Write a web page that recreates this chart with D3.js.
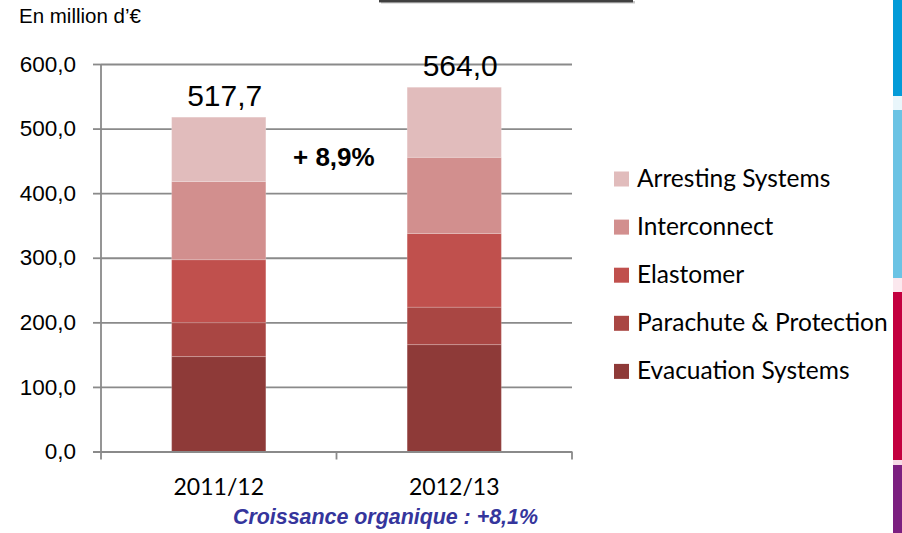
<!DOCTYPE html>
<html>
<head>
<meta charset="utf-8">
<script src="https://cdn.jsdelivr.net/npm/d3@7/dist/d3.min.js"></script>
<style>
  html, body { margin: 0; padding: 0; background: #ffffff; }
  svg { display: block; }
</style>
</head>
<body>
<svg id="chart" width="902" height="533"></svg>
<script>
// Revenue by division, in millions of euros
const categories = ["2011/12", "2012/13"];
const evacuationSystems = [147.0, 165.5];
const parachuteProtection = [52.5, 58.0];
const elastomer = [97.5, 114.0];
const interconnect = [121.0, 118.0];
const arrestingSystems = [99.7, 108.5];

// Series from bottom of the stack to the top
const seriesNames = ["Evacuation Systems", "Parachute & Protection", "Elastomer", "Interconnect", "Arresting Systems"];
const seriesValues = [evacuationSystems, parachuteProtection, elastomer, interconnect, arrestingSystems];
const seriesColors = ["#8e3a38", "#a94643", "#c0504d", "#d28f8e", "#e1bcbc"];

const yTicks = [0, 100, 200, 300, 400, 500, 600];
const growthLabel = "+ 8,9%";
const organicLabel = "Croissance organique : +8,1%";
const unitLabel = "En million d\u2019\u20ac";

const svg = d3.select("#chart");
const plot = { left: 101, right: 572, top: 64, bottom: 451.5 };

const rows = categories.map((c, i) => {
  const r = { category: c };
  seriesNames.forEach((s, j) => { r[s] = seriesValues[j][i]; });
  return r;
});
const stacked = d3.stack().keys(seriesNames)(rows);

const y = d3.scaleLinear().domain([0, 600]).range([plot.bottom, plot.top]);
const xBand = d3.scaleBand().domain(categories).range([plot.left, plot.right]).padding(0);
const barW = xBand.bandwidth() * 0.4;
const barX = c => xBand(c) + (xBand.bandwidth() - barW) / 2;

const comma = v => d3.format(".1f")(v).replace(".", ",");

// decorative strips along the right edge
const strips = [
  { y0: 0, y1: 96, c: "#039bd8" },
  { y0: 96, y1: 110, c: "#e9f6fb" },
  { y0: 110, y1: 278, c: "#6bc3e4" },
  { y0: 278, y1: 292, c: "#fbe8ee" },
  { y0: 292, y1: 460, c: "#c3003f" },
  { y0: 460, y1: 465, c: "#f6dbe6" },
  { y0: 465, y1: 533, c: "#7c1f80" }
];
svg.append("g").selectAll("rect").data(strips).join("rect")
  .attr("x", 893).attr("width", 9)
  .attr("y", d => d.y0).attr("height", d => d.y1 - d.y0)
  .attr("fill", d => d.c);

// bottom edge of the header box
svg.append("rect").attr("x", 381).attr("y", 1).attr("width", 254).attr("height", 2.5).attr("fill", "#c8c8c8");
svg.append("rect").attr("x", 379).attr("y", 0).attr("width", 254).attr("height", 2.4).attr("fill", "#404040");

// unit label
svg.append("text").attr("x", 19).attr("y", 23)
  .attr("font-family", "'Liberation Sans', Arial, sans-serif").attr("font-size", 20.5)
  .attr("fill", "#000").text(unitLabel);

// gridlines
const grid = svg.append("g").attr("transform", `translate(${plot.left},0)`)
  .call(d3.axisLeft(y).tickValues(yTicks).tickSize(-(plot.right - plot.left)).tickFormat(""));
grid.select(".domain").remove();
grid.selectAll(".tick line").attr("stroke", "#8a8a8a").attr("stroke-width", 1.8);

// y axis with ticks and labels
const yAxis = svg.append("g").attr("transform", `translate(${plot.left},0)`)
  .call(d3.axisLeft(y).tickValues(yTicks).tickSize(8).tickPadding(17).tickFormat(comma));
yAxis.select(".domain").attr("stroke", "#8a8a8a").attr("stroke-width", 1.8).attr("d", `M0,${plot.top}V${plot.bottom}`);
yAxis.selectAll(".tick line").attr("stroke", "#8a8a8a").attr("stroke-width", 1.8);
yAxis.selectAll(".tick text")
  .attr("font-family", "'Liberation Sans', Arial, sans-serif").attr("font-size", 22.5).attr("fill", "#000");

// stacked bars
svg.append("g").selectAll("g").data(stacked).join("g")
  .attr("fill", (d, i) => seriesColors[i])
  .selectAll("rect").data(d => d).join("rect")
  .attr("x", d => barX(d.data.category))
  .attr("width", barW)
  .attr("y", d => y(d[1]))
  .attr("height", d => y(d[0]) - y(d[1]))
  .attr("stroke", "#ffffff").attr("stroke-opacity", 0.2).attr("stroke-width", 1);

// x axis line with boundary ticks
const xTickPos = categories.map(c => xBand(c)).concat([plot.right]);
const xAxis = svg.append("g");
xAxis.append("line").attr("x1", plot.left - 8).attr("x2", plot.right)
  .attr("y1", y(0) + 0.5).attr("y2", y(0) + 0.5)
  .attr("stroke", "#8a8a8a").attr("stroke-width", 1.8);
xAxis.selectAll("line.tk").data(xTickPos).join("line").attr("class", "tk")
  .attr("x1", d => d).attr("x2", d => d)
  .attr("y1", y(0)).attr("y2", y(0) + 8)
  .attr("stroke", "#8a8a8a").attr("stroke-width", 1.8);
xAxis.selectAll("text").data(categories).join("text")
  .attr("x", c => xBand(c) + xBand.bandwidth() / 2).attr("y", 495)
  .attr("text-anchor", "middle")
  .attr("font-family", "Lato, 'Open Sans', sans-serif").attr("font-size", 23)
  .attr("fill", "#000").text(c => c);

// totals above the bars
const topLayer = stacked[stacked.length - 1];
svg.append("g").selectAll("text").data(topLayer).join("text")
  .attr("x", d => barX(d.data.category) + 15.5)
  .attr("y", d => y(d[1]) - 11.5)
  .attr("font-family", "'Liberation Sans', Arial, sans-serif").attr("font-size", 30)
  .attr("fill", "#000").text(d => comma(d[1]));

// growth annotation
svg.append("text").attr("x", 293).attr("y", 166)
  .attr("font-family", "'Liberation Sans', Arial, sans-serif").attr("font-weight", "bold")
  .attr("font-size", 26).attr("fill", "#000").text(growthLabel);

// organic growth note
svg.append("text").attr("x", 233).attr("y", 524)
  .attr("font-family", "'Liberation Sans', Arial, sans-serif").attr("font-weight", "bold")
  .attr("font-style", "italic").attr("font-size", 21.4).attr("fill", "#35359c").text(organicLabel);

// legend, top entry is the top of the stack
const legendOrder = seriesNames.map((s, i) => ({ name: s, color: seriesColors[i] })).reverse();
const legend = svg.append("g").selectAll("g").data(legendOrder).join("g")
  .attr("transform", (d, i) => `translate(614,${171.5 + i * 48.1})`);
legend.append("rect").attr("width", 15).attr("height", 15).attr("fill", d => d.color);
legend.append("text").attr("x", 23).attr("y", 15)
  .attr("font-family", "Lato, 'Open Sans', sans-serif").attr("font-size", 24.5)
  .attr("fill", "#000").text(d => d.name);
</script>
</body>
</html>
